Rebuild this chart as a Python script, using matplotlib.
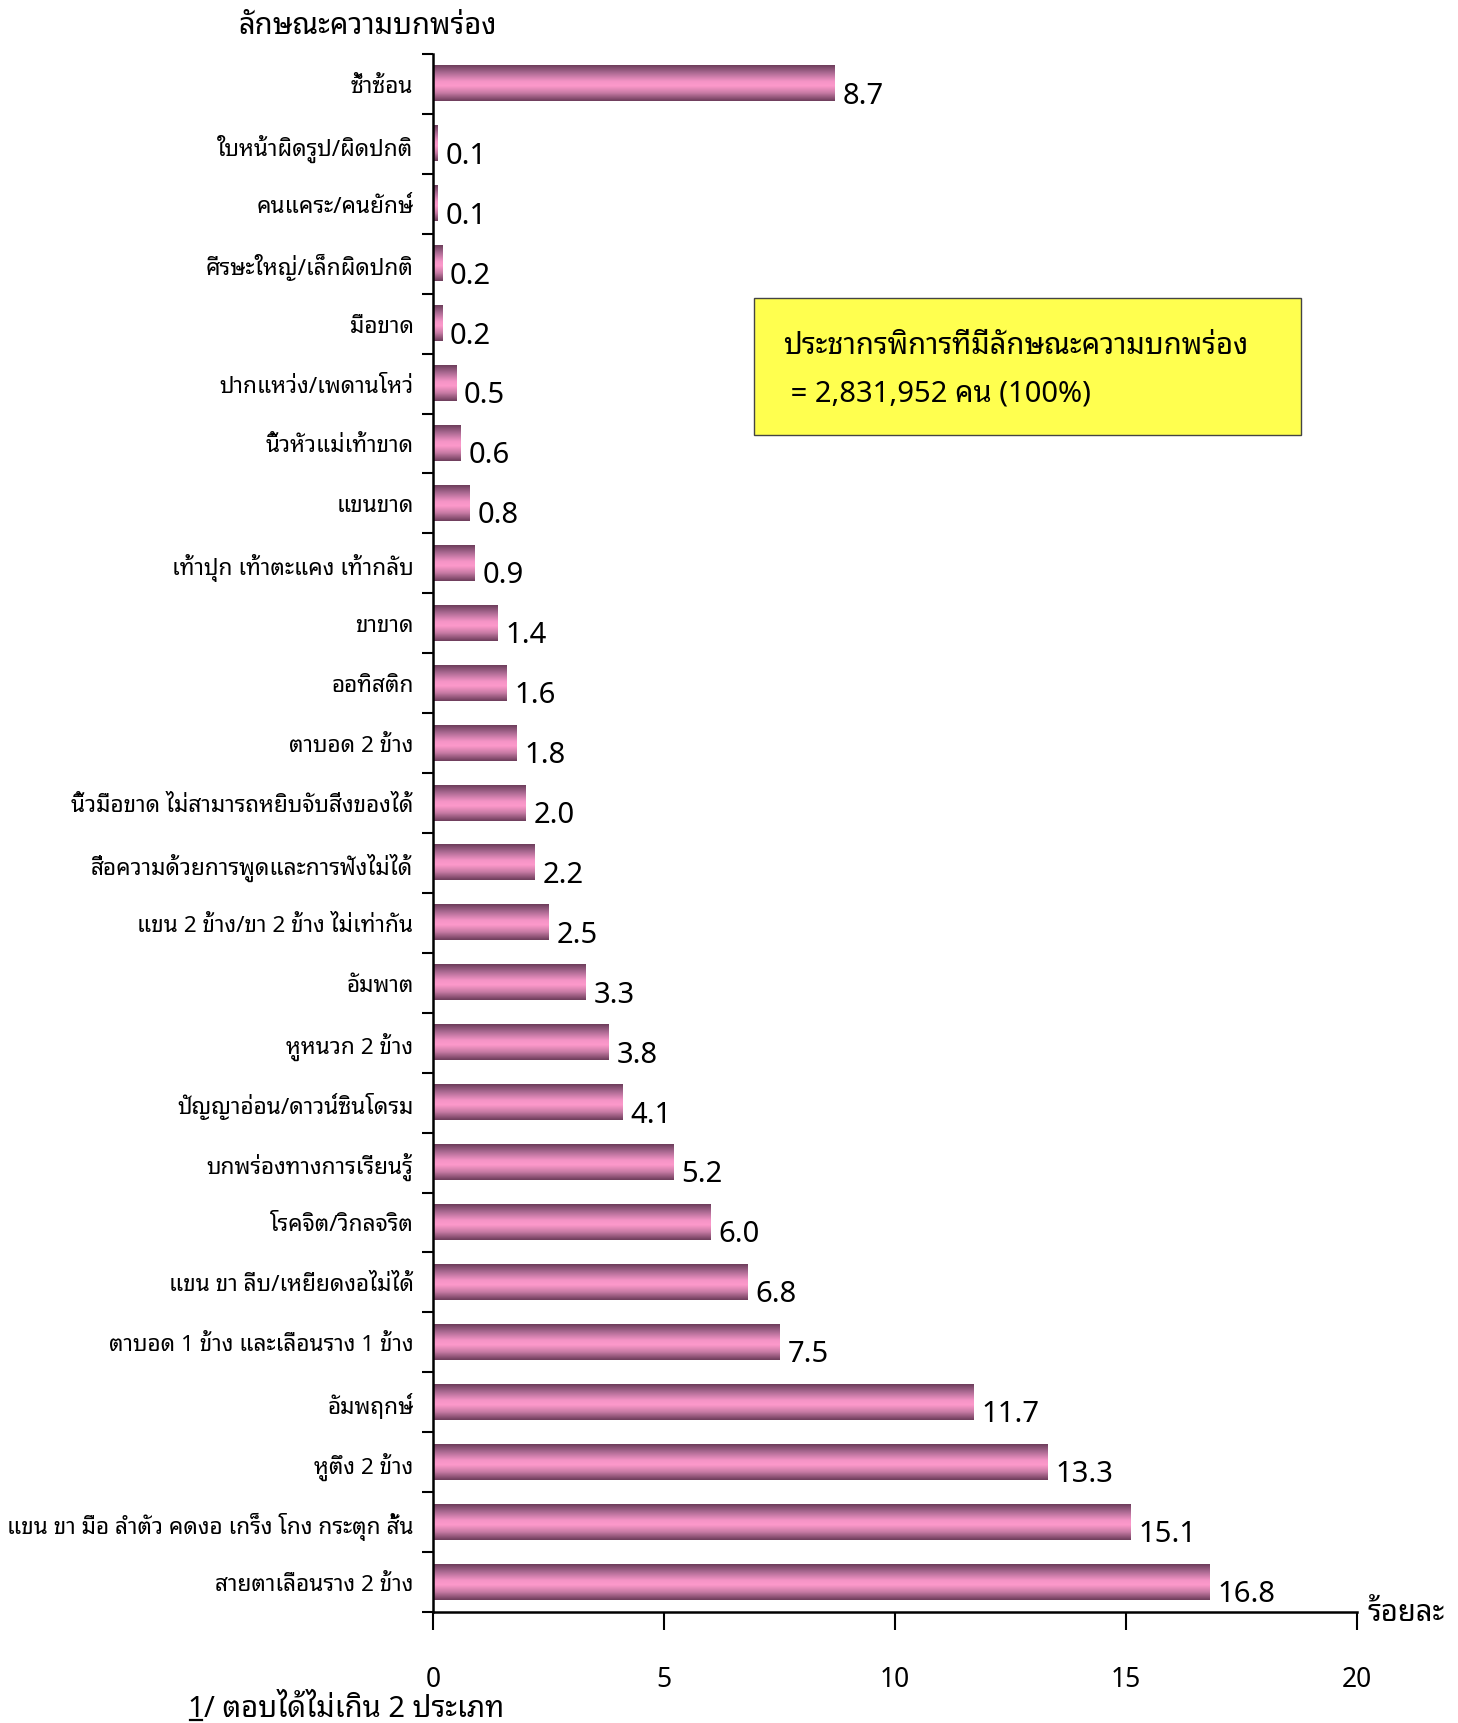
import matplotlib
matplotlib.use("Agg")
import matplotlib.pyplot as plt
from matplotlib.colors import LinearSegmentedColormap
from matplotlib.lines import Line2D
import numpy as np

FONT = ["Noto Sans Thai Looped", "DejaVu Sans"]
plt.rcParams['font.family'] = FONT

categories = [
    "ซ้ำซ้อน",
    "ใบหน้าผิดรูป/ผิดปกติ",
    "คนแคระ/คนยักษ์",
    "ศีรษะใหญ่/เล็กผิดปกติ",
    "มือขาด",
    "ปากแหว่ง/เพดานโหว่",
    "นิ้วหัวแม่เท้าขาด",
    "แขนขาด",
    "เท้าปุก เท้าตะแคง เท้ากลับ",
    "ขาขาด",
    "ออทิสติก",
    "ตาบอด 2 ข้าง",
    "นิ้วมือขาด ไม่สามารถหยิบจับสิ่งของได้",
    "สื่อความด้วยการพูดและการฟังไม่ได้",
    "แขน 2 ข้าง/ขา 2 ข้าง ไม่เท่ากัน",
    "อัมพาต",
    "หูหนวก 2 ข้าง",
    "ปัญญาอ่อน/ดาวน์ซินโดรม",
    "บกพร่องทางการเรียนรู้",
    "โรคจิต/วิกลจริต",
    "แขน ขา ลีบ/เหยียดงอไม่ได้",
    "ตาบอด 1 ข้าง และเลือนราง 1 ข้าง",
    "อัมพฤกษ์",
    "หูตึง 2 ข้าง",
    "แขน ขา มือ ลำตัว คดงอ เกร็ง โกง กระตุก สั้น",
    "สายตาเลือนราง 2 ข้าง",
]
values = [8.7, 0.1, 0.1, 0.2, 0.2, 0.5, 0.6, 0.8, 0.9, 1.4, 1.6, 1.8, 2.0,
          2.2, 2.5, 3.3, 3.8, 4.1, 5.2, 6.0, 6.8, 7.5, 11.7, 13.3, 15.1, 16.8]
value_labels = ["8.7", "0.1", "0.1", "0.2", "0.2", "0.5", "0.6", "0.8", "0.9",
                "1.4", "1.6", "1.8", "2.0", "2.2", "2.5", "3.3", "3.8", "4.1",
                "5.2", "6.0", "6.8", "7.5", "11.7", "13.3", "15.1", "16.8"]
x_ticks = [0, 5, 10, 15, 20]

title_text = "ลักษณะความบกพร่อง"
box_line1 = "ประชากรพิการที่มีลักษณะความบกพร่อง"
box_line2 = " = 2,831,952 คน (100%)"
x_unit = "ร้อยละ"
footnote_num = "1"
footnote_rest = "/ ตอบได้ไม่เกิน 2 ประเภท"

W, H = 1458, 1724
fig = plt.figure(figsize=(W / 100, H / 100), dpi=100)
ax = fig.add_axes([433 / W, 1 - 1613 / H, (1357 - 433) / W, (1613 - 55) / H])

n = len(categories)
ypos = np.arange(n)
bar_h = 0.585

cmap = LinearSegmentedColormap.from_list(
    "barshade",
    [(0.0, "#6e3e5c"), (0.2, "#a86890"), (0.45, "#f494c6"),
     (0.58, "#fd99cb"), (0.78, "#c77aa4"), (1.0, "#6e3e5c")])
grad = np.linspace(0, 1, 64).reshape(-1, 1)

for y, v in zip(ypos, values):
    ax.imshow(grad, cmap=cmap, aspect='auto', interpolation='bilinear',
              extent=(0, v, y + bar_h / 2, y - bar_h / 2), zorder=2, origin='upper')

for y, v, lab in zip(ypos, values, value_labels):
    ax.text(v + 0.17, y + 0.19, lab, fontsize=21, va='center', ha='left', family=FONT)

ax.set_xlim(0, 20)
ax.set_ylim(n - 0.5, -0.5)
ax.set_yticks(ypos)
ax.set_yticklabels(categories, fontsize=16.3)
ax.tick_params(axis='y', which='major', length=0, pad=14)
ax.set_yticks(np.arange(n + 1) - 0.5, minor=True)
ax.tick_params(axis='y', which='minor', length=8, width=1.5, direction='out')
ax.set_xticks(x_ticks)
ax.set_xticklabels([str(t) for t in x_ticks], fontsize=19)
ax.tick_params(axis='x', length=13, width=1.5, direction='out', pad=25)
for s in ['top', 'right']:
    ax.spines[s].set_visible(False)
for s in ['left', 'bottom']:
    ax.spines[s].set_linewidth(1.8)

fig.text(238 / W, 1 - 26 / H, title_text, fontsize=21, ha='left', va='center')
fig.text(1367 / W, 1 - 1614 / H, x_unit, fontsize=21, ha='left', va='center')

# yellow info box
box = matplotlib.patches.Rectangle((754 / W, 1 - 436 / H), (1301 - 754) / W, (436 - 299) / H,
                                   transform=fig.transFigure, facecolor="#ffff4f",
                                   edgecolor="#444444", linewidth=1.0)
fig.patches.append(box)
fig.text(783 / W, 1 - 346 / H, box_line1, fontsize=21, ha='left', va='center')
fig.text(783 / W, 1 - 394 / H, box_line2, fontsize=21, ha='left', va='center')

# footnote with underlined "1"
base_y = 1 - 1717 / H
t1 = fig.text(187 / W, base_y, footnote_num, fontsize=21, ha='left', va='baseline')
fig.canvas.draw()
r = fig.canvas.get_renderer()
bb = t1.get_window_extent(r)
fig.text(bb.x1 / W, base_y, footnote_rest, fontsize=21, ha='left', va='baseline')
uy = 1 - 1720.5 / H
fig.add_artist(Line2D([bb.x0 / W + 0.002, bb.x1 / W - 0.001], [uy, uy],
                      transform=fig.transFigure, color='black', linewidth=1.6))

fig.savefig("out.png", dpi=100)
